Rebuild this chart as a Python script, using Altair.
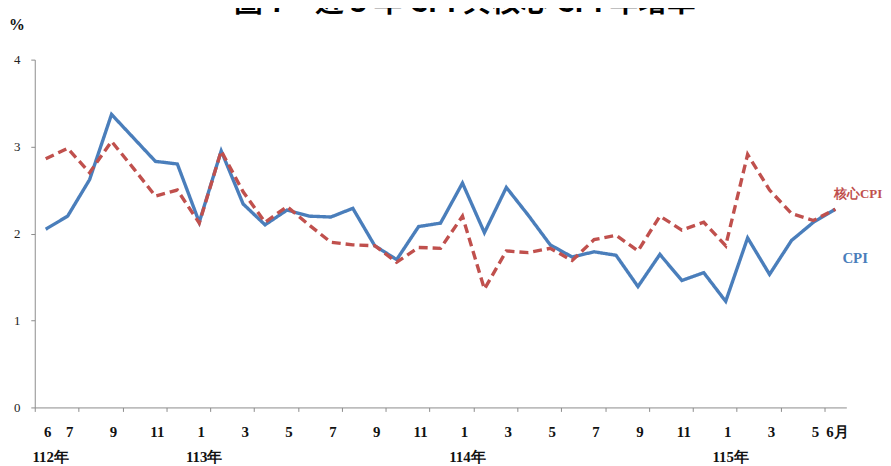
import altair as alt
import pandas as pd

# 112年6月 ~ 115年6月 (37 months)
cpi = [2.05, 2.20, 2.62, 3.37, 3.10, 2.83, 2.80, 2.13, 2.95, 2.34, 2.10, 2.27,
       2.20, 2.19, 2.29, 1.86, 1.70, 2.08, 2.12, 2.58, 2.01, 2.53, 2.21, 1.87,
       1.73, 1.79, 1.75, 1.39, 1.76, 1.46, 1.55, 1.22, 1.95, 1.53, 1.92, 2.13, 2.28]
core = [2.86, 2.98, 2.70, 3.06, 2.75, 2.43, 2.50, 2.12, 2.95, 2.48, 2.13, 2.31,
        2.10, 1.90, 1.87, 1.86, 1.67, 1.84, 1.83, 2.20, 1.36, 1.80, 1.78, 1.83,
        1.69, 1.93, 1.98, 1.80, 2.20, 2.04, 2.13, 1.86, 2.91, 2.50, 2.23, 2.15, 2.28]

month_labels = ["6", "7", "9", "11", "1", "3", "5", "7", "9", "11",
                "1", "3", "5", "7", "9", "11", "1", "3", "5", "6月"]
month_pos = [0, 1, 3, 5, 7, 9, 11, 13, 15, 17, 19, 21, 23, 25, 27, 29, 31, 33, 35, 36]
year_labels = ["112年", "113年", "114年", "115年"]
year_pos = [0, 7, 19, 31]
series_names = ["CPI", "核心CPI"]
series_colors = ["#4A7EBB", "#C0504D"]
title_text = "圖 7　近 3 年 CPI 與核心 CPI 年增率"

n = len(cpi)
df = pd.DataFrame({
    "i": list(range(n)) * 2,
    "v": cpi + core,
    "s": [series_names[0]] * n + [series_names[1]] * n,
})
W, H = 819, 351

xscale = alt.Scale(domain=[-0.5, n - 0.5], nice=False, zero=False)
yscale = alt.Scale(domain=[0, 4], nice=False)

lines = alt.Chart(df).mark_line(strokeWidth=3.4).encode(
    x=alt.X("i:Q", scale=xscale,
            axis=alt.Axis(values=[k - 0.5 for k in range(n + 1)], labels=False,
                          tickSize=4, grid=False, title=None,
                          domainColor="#8C8C8C", tickColor="#8C8C8C")),
    y=alt.Y("v:Q", scale=yscale,
            axis=alt.Axis(values=[0, 1, 2, 3, 4], format="d", tickSize=4, labelPadding=11,
                          grid=False, title=None, labelFont="Liberation Sans Narrow",
                          labelFontSize=13, labelColor="#222222",
                          domainColor="#8C8C8C", tickColor="#8C8C8C")),
    color=alt.Color("s:N", scale=alt.Scale(domain=series_names, range=series_colors), legend=None),
    strokeDash=alt.StrokeDash("s:N", scale=alt.Scale(domain=series_names, range=[[1, 0], [9, 5]]), legend=None),
)

mdf = pd.DataFrame({"i": month_pos, "t": month_labels})
months = alt.Chart(mdf).mark_text(font="Liberation Serif", fontWeight="bold", fontSize=15,
                                  baseline="middle", dx=2, color="#111111").encode(
    x=alt.X("i:Q", scale=xscale), y=alt.value(H + 25), text="t:N")

ydf = pd.DataFrame({"i": year_pos, "t": year_labels})
years = alt.Chart(ydf).mark_text(font="Liberation Serif", fontWeight="bold", fontSize=15,
                                 baseline="middle", dx=5, color="#111111").encode(
    x=alt.X("i:Q", scale=xscale), y=alt.value(H + 50), text="t:N")

last = pd.DataFrame({"i": [n - 1], "c": [cpi[-1]], "k": [core[-1]],
                     "a": [series_names[0]], "b": [series_names[1]]})
lab_core = alt.Chart(last).mark_text(font="Liberation Serif", fontWeight="bold", fontSize=13,
                                     baseline="middle", align="center", dx=23, dy=-15,
                                     color=series_colors[1]).encode(
    x=alt.X("i:Q", scale=xscale), y=alt.Y("k:Q", scale=yscale), text="b:N")
lab_cpi = alt.Chart(last).mark_text(font="Liberation Serif", fontWeight="bold", fontSize=15,
                                    baseline="middle", align="center", dx=20, dy=49,
                                    color=series_colors[0]).encode(
    x=alt.X("i:Q", scale=xscale), y=alt.Y("c:Q", scale=yscale), text="a:N")

pct = alt.Chart(pd.DataFrame({"t": ["%"]})).mark_text(
    font="Liberation Sans Narrow", fontWeight="bold", fontSize=16, baseline="middle",
    align="center", color="#111111").encode(x=alt.value(-18), y=alt.value(-35), text="t:N")

title = alt.Chart(pd.DataFrame({"t": [title_text]})).mark_text(
    font="Noto Sans CJK TC", fontWeight="bold", fontSize=29, baseline="alphabetic",
    align="center", color="#000000").encode(x=alt.value(434), y=alt.value(-48), text="t:N")

chart = alt.layer(lines, months, years, lab_core, lab_cpi, pct, title).properties(
    width=W, height=H,
    autosize=alt.AutoSizeParams(type="none"),
    padding={"left": 27, "top": 50, "right": 37, "bottom": 57},
).configure_view(stroke=None).configure_axis(labelFlush=False)

chart.save("out.html", embed_options={"renderer": "svg", "actions": False})
